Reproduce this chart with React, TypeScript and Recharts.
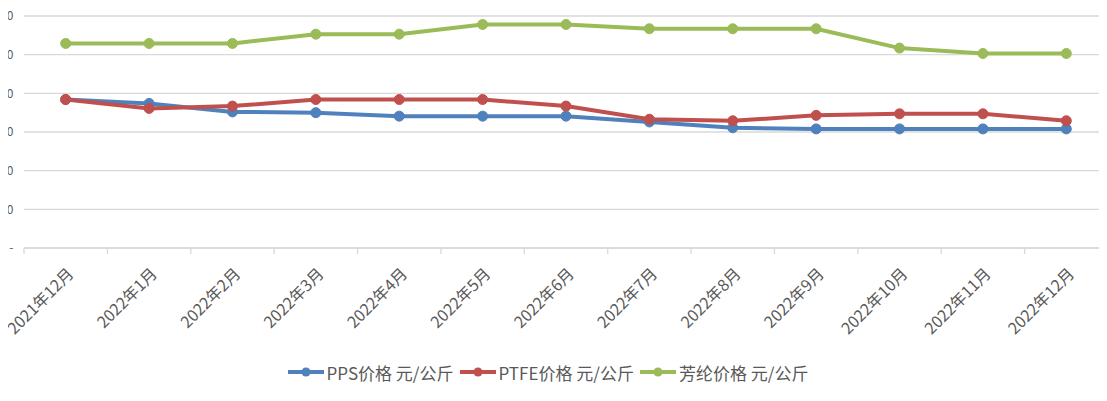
import React from 'react';
import { LineChart, Line, XAxis, YAxis, CartesianGrid, Legend } from 'recharts';

const categories = ['2021年12月', '2022年1月', '2022年2月', '2022年3月', '2022年4月', '2022年5月', '2022年6月', '2022年7月', '2022年8月', '2022年9月', '2022年10月', '2022年11月', '2022年12月'];
const ppsPrice = [38.4, 37.4, 35.2, 35.0, 34.1, 34.1, 34.1, 32.6, 31.1, 30.8, 30.8, 30.8, 30.8];
const ptfePrice = [38.4, 36.1, 36.7, 38.4, 38.4, 38.4, 36.7, 33.3, 32.9, 34.3, 34.7, 34.7, 32.9];
const aramidPrice = [52.9, 52.9, 52.9, 55.3, 55.3, 57.8, 57.8, 56.7, 56.7, 56.7, 51.7, 50.3, 50.3];
const yTicks = [0, 10, 20, 30, 40, 50, 60];
const seriesNames = ['PPS价格 元/公斤', 'PTFE价格 元/公斤', '芳纶价格 元/公斤'];
const seriesColors = ['#4F81BD', '#C0504D', '#9BBB59'];

const data = categories.map((c, i) => ({
  cat: c,
  pps: ppsPrice[i],
  ptfe: ptfePrice[i],
  aramid: aramidPrice[i],
}));

const FONT = '"Noto Sans CJK SC", "Noto Sans", sans-serif';
const TEXT = '#595959';
const GRID = '#d9d9d9';

const CatTick = (props: any) => {
  const { x, y, payload, index } = props;
  const half = payload && typeof payload.offset === 'number' ? payload.offset : 0;
  const ax = x + 9;
  const ay = y + 27;
  const isLast = index === categories.length - 1;
  return (
    <g>
      <line x1={x - half} y1={y} x2={x - half} y2={y + 6} stroke={GRID} strokeWidth={1.3} />
      {isLast && <line x1={x + half} y1={y} x2={x + half} y2={y + 6} stroke={GRID} strokeWidth={1.3} />}
      <text x={ax} y={ay} transform={`rotate(-45 ${ax} ${ay})`} textAnchor="end" fill={TEXT} fontSize={16} fontFamily={FONT}>
        {payload.value}
      </text>
    </g>
  );
};

const LegendContent = (props: any) => {
  const { payload } = props;
  return (
    <div style={{ display: 'flex', justifyContent: 'center', alignItems: 'center', height: 20, fontFamily: FONT, fontSize: 17, color: TEXT }}>
      {(payload || []).map((p: any, i: number) => (
        <div key={i} style={{ display: 'flex', alignItems: 'center', marginRight: 6 }}>
          <svg width={36} height={12} style={{ marginRight: 3 }}>
            <line x1={0} y1={6} x2={36} y2={6} stroke={p.color} strokeWidth={4} />
            <circle cx={18} cy={6} r={4.5} fill={p.color} />
          </svg>
          <span>{p.value}</span>
        </div>
      ))}
    </div>
  );
};

export default function App() {
  return (
    <div style={{ marginTop: -8, width: 1099, height: 401, overflow: 'hidden', background: '#fff' }}>
      <div style={{ marginLeft: -20, width: 1120, height: 401 }}>
        <LineChart width={1120} height={401} data={data} margin={{ top: 16, right: 0, bottom: 0, left: 0 }}>
          <CartesianGrid horizontal vertical={false} stroke={GRID} strokeWidth={1.3} />
          <XAxis
            dataKey="cat"
            scale="band"
            interval={0}
            height={133}
            axisLine={{ stroke: GRID, strokeWidth: 1.3 }}
            tickLine={false}
            tickSize={0}
            tickMargin={0}
            tick={<CatTick />}
          />
          <YAxis
            width={36}
            domain={[0, 60]}
            ticks={yTicks}
            axisLine={false}
            tickLine={false}
            tickSize={0}
            tickMargin={10.5}
            tickFormatter={(v: number) => (v === 0 ? '-' : String(v))}
            tick={{ fill: TEXT, fontSize: 12, fontFamily: FONT }}
          />
          <Legend
            verticalAlign="bottom"
            content={<LegendContent />}
            wrapperStyle={{ top: 362, left: 0, width: 1126, height: 20, bottom: 'auto' }}
          />
          <Line name={seriesNames[0]} dataKey="pps" stroke={seriesColors[0]} strokeWidth={4} dot={{ r: 5, fill: seriesColors[0], stroke: seriesColors[0], strokeWidth: 1 }} activeDot={false} isAnimationActive={false} />
          <Line name={seriesNames[1]} dataKey="ptfe" stroke={seriesColors[1]} strokeWidth={4} dot={{ r: 5, fill: seriesColors[1], stroke: seriesColors[1], strokeWidth: 1 }} activeDot={false} isAnimationActive={false} />
          <Line name={seriesNames[2]} dataKey="aramid" stroke={seriesColors[2]} strokeWidth={4} dot={{ r: 5, fill: seriesColors[2], stroke: seriesColors[2], strokeWidth: 1 }} activeDot={false} isAnimationActive={false} />
        </LineChart>
      </div>
    </div>
  );
}
